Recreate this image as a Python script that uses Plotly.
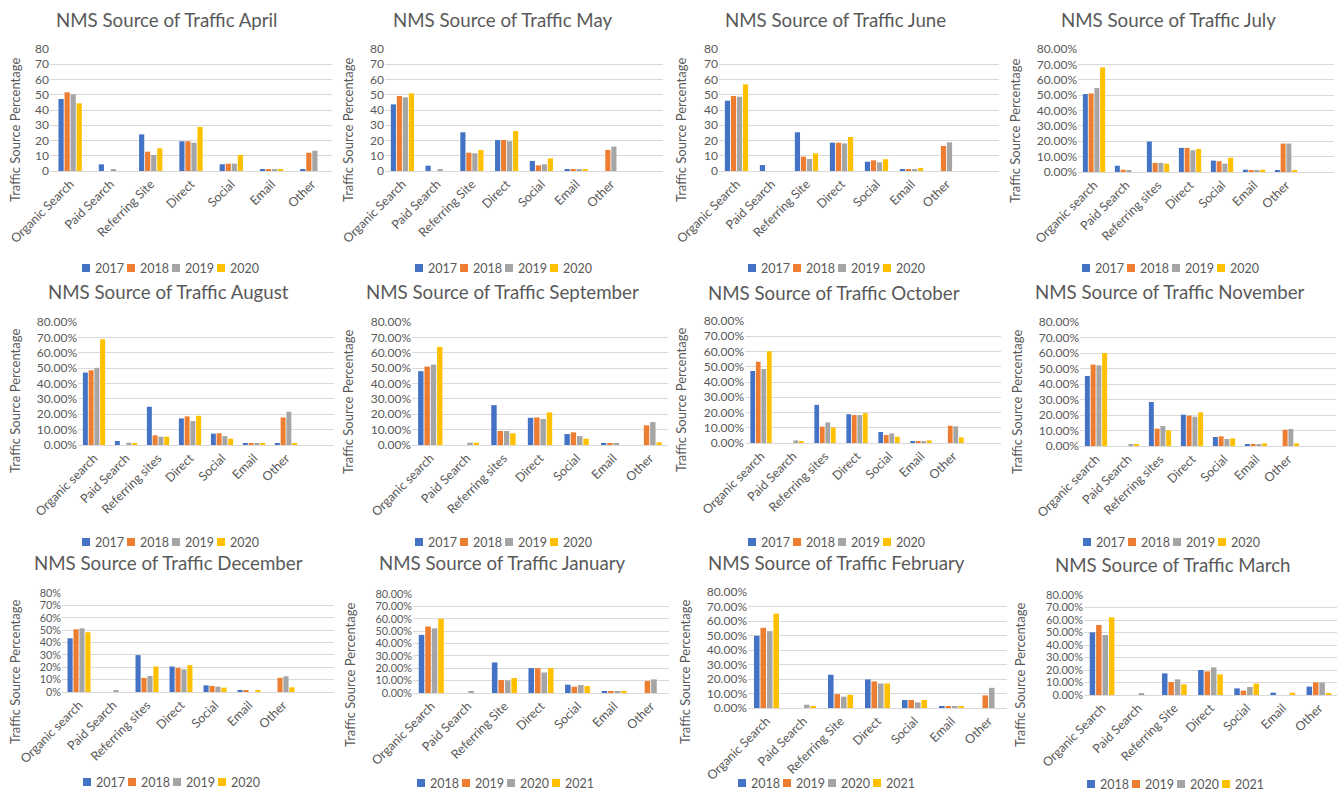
import plotly.graph_objects as go

W, H = 1337, 793
FONT = "Lato"
TEXT_GREY = "#595959"
GRID_GREY = "#D9D9D9"
COLORS = ["#4472C4", "#ED7D31", "#A5A5A5", "#FFC000"]

# ---- categories / legend labels ----
CATS_TITLE_CASE = ["Organic Search", "Paid Search", "Referring Site", "Direct", "Social", "Email", "Other"]
CATS_LOWER_CASE = ["Organic search", "Paid Search", "Referring sites", "Direct", "Social", "Email", "Other"]
YEARS_2017_2020 = ["2017", "2018", "2019", "2020"]
YEARS_2018_2021 = ["2018", "2019", "2020", "2021"]

# ---- traffic share (%) per month: one row per year, one column per category ----
april = [
    [47.2, 4.4, 24.0, 19.5, 4.4, 1.3, 1.3],
    [51.6, None, 12.7, 19.5, 4.8, 1.3, 12.0],
    [50.3, 1.1, 10.5, 18.6, 4.8, 1.3, 13.3],
    [44.4, None, 14.9, 28.9, 10.5, 1.3, None],
]
may = [
    [43.7, 3.5, 25.4, 20.3, 6.6, 1.3, None],
    [49.2, None, 12.0, 20.3, 3.7, 1.3, 13.8],
    [48.3, 1.1, 11.6, 19.5, 4.4, 1.1, 16.0],
    [50.9, None, 13.8, 26.2, 8.3, 1.1, None],
]
june = [
    [46.1, 3.9, 25.4, 18.6, 6.1, 1.3, None],
    [49.2, None, 9.4, 18.6, 7.0, 1.1, 16.4],
    [48.7, None, 7.9, 18.1, 5.7, 1.3, 18.8],
    [56.8, None, 11.6, 22.3, 7.7, 2.0, None],
]
july = [
    [50.7, 4.1, 19.8, 15.7, 7.4, 1.5, 1.3],
    [51.1, 1.5, 5.9, 15.7, 7.0, 1.1, 18.5],
    [54.6, 1.1, 5.9, 14.1, 5.4, 0.9, 18.5],
    [68.0, None, 5.4, 15.0, 9.3, 1.5, 0.9],
]
august = [
    [47.1, 2.6, 24.9, 17.3, 7.4, 1.1, 1.1],
    [48.6, None, 6.3, 18.6, 7.6, 1.1, 17.9],
    [50.2, 1.5, 5.4, 15.6, 5.8, 1.1, 21.6],
    [68.8, 1.1, 5.4, 19.0, 4.1, 1.1, 1.1],
]
september = [
    [48.0, None, 25.9, 17.7, 7.1, 1.1, None],
    [51.0, None, 9.1, 17.9, 8.2, 1.3, 12.8],
    [52.3, 1.5, 9.1, 16.9, 5.8, 1.1, 14.9],
    [63.8, 1.5, 7.6, 21.2, 4.1, None, 1.7],
]
october = [
    [47.2, None, 25.0, 18.9, 7.2, 1.3, None],
    [53.3, None, 10.7, 18.3, 5.2, 1.3, 11.3],
    [48.5, 1.7, 13.5, 18.3, 6.3, 0.9, 10.9],
    [60.2, 1.3, 10.2, 19.6, 4.1, 1.7, 3.7],
]
november = [
    [45.2, None, 28.4, 20.2, 5.8, 1.3, None],
    [52.5, None, 11.2, 19.6, 6.2, 0.9, 10.5],
    [52.0, 0.9, 12.9, 18.9, 4.5, 0.9, 11.0],
    [60.0, 0.9, 10.1, 21.7, 4.9, 1.7, 1.7],
]
december = [
    [43.4, None, 29.8, 20.6, 5.4, 1.4, None],
    [50.7, None, 11.4, 19.5, 4.9, 1.4, 11.4],
    [51.5, 1.1, 13.0, 18.4, 4.3, None, 12.7],
    [48.3, None, 20.6, 21.7, 3.5, 1.4, 3.8],
]
january = [
    [47.0, None, 24.7, 20.1, 6.7, 1.6, None],
    [53.7, None, 10.5, 20.1, 5.1, 1.1, 9.7],
    [52.3, 1.6, 10.2, 16.6, 6.4, 1.6, 11.0],
    [59.9, None, 12.1, 20.1, 5.6, 1.6, None],
]
february = [
    [49.8, None, 22.9, 19.7, 5.5, 1.1, None],
    [55.3, None, 9.6, 18.3, 5.5, 1.1, 8.7],
    [53.0, 2.3, 7.8, 16.9, 3.9, 0.7, 13.9],
    [65.1, 0.7, 9.1, 16.9, 5.5, 1.1, None],
]
march = [
    [50.1, None, 17.3, 20.0, 5.3, 1.9, 6.7],
    [56.0, None, 10.4, 18.9, 3.5, None, 10.1],
    [48.0, 1.1, 12.5, 22.1, 6.4, None, 9.9],
    [62.1, None, 8.5, 16.5, 9.1, 1.9, 1.6],
]

# ---- panel content: title, categories, legend years, values, tick style ----
PANELS = [
    ("NMS Source of Traffic April", CATS_TITLE_CASE, YEARS_2017_2020, april, "int"),
    ("NMS Source of Traffic May", CATS_TITLE_CASE, YEARS_2017_2020, may, "int"),
    ("NMS Source of Traffic June", CATS_TITLE_CASE, YEARS_2017_2020, june, "int"),
    ("NMS Source of Traffic July", CATS_LOWER_CASE, YEARS_2017_2020, july, "pct2"),
    ("NMS Source of Traffic August", CATS_LOWER_CASE, YEARS_2017_2020, august, "pct2"),
    ("NMS Source of Traffic September", CATS_LOWER_CASE, YEARS_2017_2020, september, "pct2"),
    ("NMS Source of Traffic October", CATS_LOWER_CASE, YEARS_2017_2020, october, "pct2"),
    ("NMS Source of Traffic November", CATS_LOWER_CASE, YEARS_2017_2020, november, "pct2"),
    ("NMS Source of Traffic December", CATS_LOWER_CASE, YEARS_2017_2020, december, "pct0"),
    ("NMS Source of Traffic January", CATS_TITLE_CASE, YEARS_2018_2021, january, "pct2"),
    ("NMS Source of Traffic February", CATS_TITLE_CASE, YEARS_2018_2021, february, "pct2"),
    ("NMS Source of Traffic March", CATS_TITLE_CASE, YEARS_2018_2021, march, "pct2"),
]

# ---- panel geometry in pixels ----
# plot box (left, right, top, bottom), category slots, cluster width fraction,
# title centre, y-title centre, legend centre
LAYOUT_BOXES = [
    ((50, 332, 49, 171), 7, 0.60, (167, 20), (15, 130), (172, 268)),
    ((385, 663, 49, 171), 8, 0.69, (502, 20), (348, 130), (505, 268)),
    ((719, 999, 49, 171), 8, 0.69, (835, 20), (681, 130), (838, 268)),
    ((1078, 1334, 49, 172), 8, 0.72, (1168, 20), (1015, 131), (1172, 268)),
    ((78, 334, 322, 445), 8, 0.72, (168, 292), (15, 401), (172, 542)),
    ((412, 668, 322, 445), 7, 0.69, (502, 292), (348, 402), (505, 542)),
    ((745, 1001, 321, 443), 8, 0.69, (834, 293), (681, 400), (838, 542)),
    ((1080, 1336, 322, 446), 8, 0.72, (1170, 292), (1017, 402), (1173, 542)),
    ((62, 334, 593, 692), 8, 0.70, (168, 563), (15, 672), (173, 782)),
    ((413, 669, 594, 693), 7, 0.71, (502, 563), (350, 675), (507, 783)),
    ((748, 1007, 592, 708), 7, 0.70, (837, 563), (685, 672), (828, 783)),
    ((1084, 1337, 595, 695), 7, 0.71, (1172, 565), (1020, 675), (1177, 784)),
]

fig = go.Figure()
annotations = []
shapes = []
layout_axes = {}

for i, ((title, cats, years, values, fmt), box) in enumerate(zip(PANELS, LAYOUT_BOXES)):
    (left, right, top, bottom), nslots, group, title_xy, ytitle_xy, legend_xy = box
    n = i + 1
    xa = "x" if n == 1 else f"x{n}"
    ya = "y" if n == 1 else f"y{n}"
    xkey = "xaxis" if n == 1 else f"xaxis{n}"
    ykey = "yaxis" if n == 1 else f"yaxis{n}"

    slot = group / len(years)
    for k, (year, series) in enumerate(zip(years, values)):
        fig.add_trace(go.Bar(
            x=cats, y=series, name=year, xaxis=xa, yaxis=ya,
            marker=dict(color=COLORS[k], line=dict(width=0)),
            width=slot * 0.86, offset=-group / 2 + k * slot + slot * 0.07,
            showlegend=False,
        ))

    if fmt == "int":
        tick_kw = dict(tickformat="d", ticksuffix="")
    elif fmt == "pct0":
        tick_kw = dict(tickformat="d", ticksuffix="%")
    else:
        tick_kw = dict(tickformat=".2f", ticksuffix="%")

    # value labels shrink a little on the shorter bottom-row plots
    step_px = (bottom - top) / 8
    ytick_size = min(12, round(step_px * 0.88, 1))

    layout_axes[xkey] = dict(
        domain=[left / W, right / W], anchor=ya, type="category",
        categoryorder="array", categoryarray=cats,
        range=[-0.5, nslots - 0.5], tickangle=-45, automargin=False,
        showline=True, linecolor=GRID_GREY, linewidth=1,
        showgrid=False, ticks="", zeroline=False, fixedrange=True,
        tickfont=dict(family=FONT, size=12.5, color=TEXT_GREY),
    )
    layout_axes[ykey] = dict(
        domain=[(H - bottom) / H, (H - top) / H], anchor=xa, automargin=False,
        range=[0, 80], dtick=10, showgrid=True, gridcolor=GRID_GREY, gridwidth=1,
        zeroline=False, showline=False, ticks="", fixedrange=True,
        tickfont=dict(family=FONT, size=ytick_size, color=TEXT_GREY), **tick_kw,
    )

    # chart title
    annotations.append(dict(
        text=title, x=title_xy[0] / W, y=1 - title_xy[1] / H, xref="paper", yref="paper",
        xanchor="center", yanchor="middle", showarrow=False,
        font=dict(family=FONT, size=18.7, color=TEXT_GREY),
    ))
    # value axis title
    annotations.append(dict(
        text="Traffic Source Percentage", textangle=-90,
        x=ytitle_xy[0] / W, y=1 - ytitle_xy[1] / H, xref="paper", yref="paper",
        xanchor="center", yanchor="middle", showarrow=False,
        font=dict(family=FONT, size=13, color=TEXT_GREY),
    ))
    # legend row: coloured key squares with year labels
    cx, cy = legend_xy
    for k, year in enumerate(years):
        x0 = cx - 90 + 45 * k
        shapes.append(dict(
            type="rect", xref="paper", yref="paper",
            x0=x0 / W, x1=(x0 + 8) / W, y0=1 - (cy + 4) / H, y1=1 - (cy - 4) / H,
            fillcolor=COLORS[k], line=dict(width=0),
        ))
        annotations.append(dict(
            text=year, x=(x0 + 11) / W, y=1 - cy / H, xref="paper", yref="paper",
            xanchor="left", yanchor="middle", showarrow=False,
            font=dict(family=FONT, size=12.5, color=TEXT_GREY),
        ))

fig.update_layout(
    template="none",
    width=W, height=H, margin=dict(l=0, r=0, t=0, b=0, pad=0, autoexpand=False),
    paper_bgcolor="white", plot_bgcolor="white",
    barmode="overlay", showlegend=False,
    annotations=annotations, shapes=shapes,
    **layout_axes,
)

fig.write_html("out.html")
